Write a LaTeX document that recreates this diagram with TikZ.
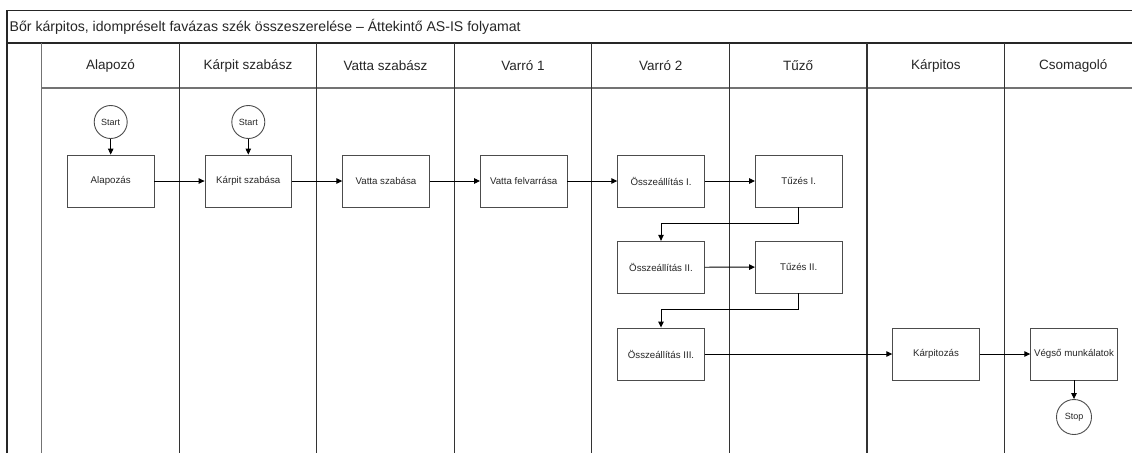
\documentclass[tikz,border=0pt]{standalone}
\usepackage{fontspec}
\setmainfont{Liberation Sans}
\usetikzlibrary{arrows.meta}
\begin{document}
\begin{tikzpicture}[x=1pt,y=-1pt,
  frame/.style={line width=1.4pt, draw=black!85},
  lanel/.style={line width=1.1pt, draw=black!80},
  task/.style={draw=black!70, line width=0.9pt, minimum width=86.5pt, minimum height=52pt, inner sep=0pt, text=black!85, font=\fontsize{9.7}{11}\selectfont},
  term/.style={circle, draw=black!70, line width=0.9pt, minimum size=33pt, inner sep=0pt, text=black!85, font=\fontsize{9}{10}\selectfont},
  lanehead/.style={text=black!85, font=\fontsize{13.5}{15}\selectfont},
  flow/.style={-{Triangle[length=6pt,width=5.5pt]}, line width=0.9pt, draw=black}
]
\useasboundingbox (0,0) rectangle (1132,453);
\clip (0,0) rectangle (1132,453);
\fill[white] (0,0) rectangle (1132,453);

% frame
\draw[frame] (7,453) -- (7,10.7) -- (1140,10.7);
\draw[frame] (7,43) -- (1140,43);
\draw[lanel, draw=black!55] (41.7,88) -- (1140,88);
\draw[lanel, draw=black!55] (41.7,43) -- (41.7,453);
\foreach \x in {179.3,316.8,454.4,591.9,729.5,867.0,1004.6}
  \draw[lanel] (\x,43) -- (\x,453);

% title
\node[anchor=west, inner sep=0pt, text=black!85, font=\fontsize{14.1}{16}\selectfont] (title) at (9.5,27) {Bőr kárpitos, idompréselt favázas szék összeszerelése – Áttekintő AS-IS folyamat};

% lane headers
\node[lanehead] (h1) at (110.5,66) {Alapozó};
\node[lanehead] (h2) at (248.0,66) {Kárpit szabász};
\node[lanehead] (h3) at (385.6,66) {Vatta szabász};
\node[lanehead] (h4) at (523.1,66) {Varró 1};
\node[lanehead] (h5) at (660.7,66) {Varró 2};
\node[lanehead] (h6) at (798.2,66) {Tűző};
\node[lanehead] (h7) at (935.8,66) {Kárpitos};
\node[lanehead] (h8) at (1073.3,66) {Csomagoló};

% terminals
\node[term] (s1) at (110.7,122) {Start};
\node[term] (s2) at (248.3,122) {Start};
\node[term, minimum size=35pt] (stop) at (1074,417) {Stop};

% tasks
\node[task] (alap) at (110.7,181) {Alapozás};
\node[task] (karp) at (248.3,181) {Kárpit szabása};
\node[task] (vsz) at (386,181) {Vatta szabása};
\node[task] (vfel) at (523.7,181) {Vatta felvarrása};
\node[task] (o1) at (661,181) {Összeállítás I.};
\node[task] (t1) at (798.7,181) {Tűzés I.};
\node[task] (o2) at (661,267.3) {Összeállítás II.};
\node[task] (t2) at (798.7,267) {Tűzés II.};
\node[task] (o3) at (661,354) {Összeállítás III.};
\node[task] (kpz) at (936,354) {Kárpitozás};
\node[task] (veg) at (1074,354) {Végső munkálatok};

% flows
\draw[flow] (s1) -- (alap);
\draw[flow] (s2) -- (karp);
\draw[flow] (alap) -- (karp);
\draw[flow] (karp) -- (vsz);
\draw[flow] (vsz) -- (vfel);
\draw[flow] (vfel) -- (o1);
\draw[flow] (o1) -- (t1);
\draw[flow] (t1.south) -- ++(0,16) -| (o2.north);
\draw[flow] (o2) -- (t2);
\draw[flow] (t2.south) -- ++(0,16) -| (o3.north);
\draw[flow] (o3) -- (kpz);
\draw[flow] (kpz) -- (veg);
\draw[flow] (veg) -- (stop);
\end{tikzpicture}
\end{document}
